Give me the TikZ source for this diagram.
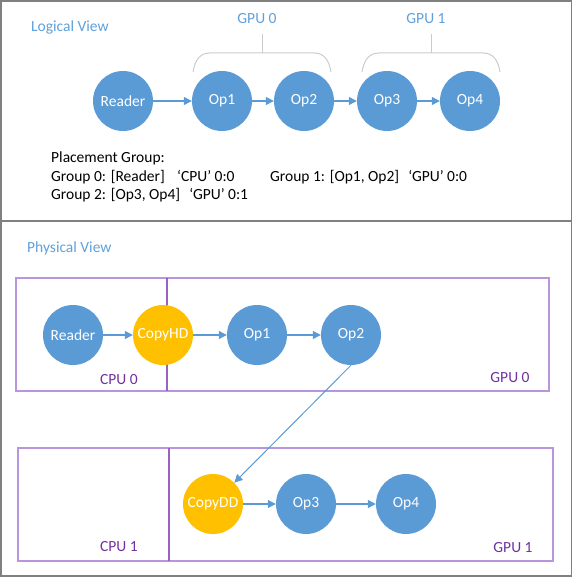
\documentclass[tikz,border=0pt]{standalone}
\usepackage{fontspec}
\setmainfont{Carlito}
\usetikzlibrary{arrows.meta}
\definecolor{cblue}{HTML}{5B9BD5}
\definecolor{corange}{HTML}{FFC000}
\definecolor{ctitle}{HTML}{5FA0DA}
\definecolor{cpurple}{HTML}{7030A0}
\definecolor{cboxline}{HTML}{B995DD}
\definecolor{cdivline}{HTML}{9A62C6}
\definecolor{cbrace}{HTML}{C8CCD0}
\definecolor{cframe}{HTML}{808080}
\tikzset{
  every node/.style={font=\fontsize{15.5}{18}\selectfont},
  opnode/.style={circle, fill=cblue, text=white, minimum size=60pt, inner sep=0pt},
  copynode/.style={circle, fill=corange, text=white, minimum size=60pt, inner sep=0pt},
  flow/.style={cblue, line width=1.2pt, -{Triangle[length=8pt,width=8pt]}},
  title/.style={text=ctitle, anchor=west, inner sep=0pt},
  devlabel/.style={text=cpurple, inner sep=0pt},
  plain/.style={text=black, anchor=west, inner sep=0pt},
  devbox/.style={draw=cboxline, line width=1.2pt},
  devdiv/.style={draw=cdivline, line width=1.2pt},
  bracket/.style={draw=cbrace, line width=1pt},
}
\begin{document}
\begin{tikzpicture}[x=1pt, y=-1pt]
\useasboundingbox (0,0) rectangle (573,577);
% frame
\draw[cframe, line width=1.5pt] (1,1) rectangle (571.5,576);
\draw[cframe, line width=1.2pt] (1,221) -- (571.5,221);

% ---------- Logical view ----------
\node[title] (ltitle) at (31,27) {Logical View};
\node[text=ctitle, inner sep=0pt] (g0lab) at (257,19) {GPU 0};
\node[text=ctitle, inner sep=0pt] (g1lab) at (426,19) {GPU 1};
% brackets
\draw[bracket] (193,72) .. controls (195,60) and (200,53) .. (210,53) -- (314,53) .. controls (324,53) and (329,60) .. (331,72);
\draw[bracket] (262,53) -- (262,34);
\draw[bracket] (362,72) .. controls (364,60) and (369,53) .. (379,53) -- (483,53) .. controls (493,53) and (498,60) .. (500,72);
\draw[bracket] (431,53) -- (431,34);

\node[opnode] (lreader) at (123,101) {Reader};
\node[opnode] (lop1) at (222,101) {Op1};
\node[opnode] (lop2) at (304,101) {Op2};
\node[opnode] (lop3) at (387,101) {Op3};
\node[opnode] (lop4) at (470,101) {Op4};
\draw[flow] (lreader) -- (lop1);
\draw[flow] (lop1) -- (lop2);
\draw[flow] (lop2) -- (lop3);
\draw[flow] (lop3) -- (lop4);

\node[plain] (pg) at (51,158) {Placement Group:};
\node[plain] (pg0) at (51,177) {Group 0: [Reader]\hspace{0.8em}‘CPU’ 0:0};
\node[plain] (pg1) at (270,177) {Group 1: [Op1, Op2]\hspace{0.6em}‘GPU’ 0:0};
\node[plain] (pg2) at (51,195) {Group 2: [Op3, Op4]\hspace{0.6em}‘GPU’ 0:1};

% ---------- Physical view ----------
\node[title] (ptitle) at (27,248) {Physical View};

\draw[devbox] (16,278) rectangle (549,391);
\draw[devdiv] (167,278) -- (167,391);
\draw[devbox] (18,448) rectangle (553,561);
\draw[devdiv] (169,448) -- (169,561);

\node[devlabel] (cpu0) at (119,380) {CPU 0};
\node[devlabel] (gpu0) at (510,378) {GPU 0};
\node[devlabel] (cpu1) at (119,547) {CPU 1};
\node[devlabel] (gpu1) at (513,548) {GPU 1};

\node[opnode] (preader) at (73,335) {Reader};
\node[copynode] (copyhd) at (163,335) {CopyHD};
\node[opnode] (pop1) at (257,335) {Op1};
\node[opnode] (pop2) at (351,335) {Op2};
\node[copynode] (copydd) at (213,504) {CopyDD};
\node[opnode] (pop3) at (306,504) {Op3};
\node[opnode] (pop4) at (406,504) {Op4};

\draw[flow] (preader) -- (copyhd);
\draw[flow] (copyhd) -- (pop1);
\draw[flow] (pop1) -- (pop2);
\draw[flow, line width=1pt] (pop2.south) -- (copydd.45);
\draw[flow] (copydd) -- (pop3);
\draw[flow] (pop3) -- (pop4);
\end{tikzpicture}
\end{document}
